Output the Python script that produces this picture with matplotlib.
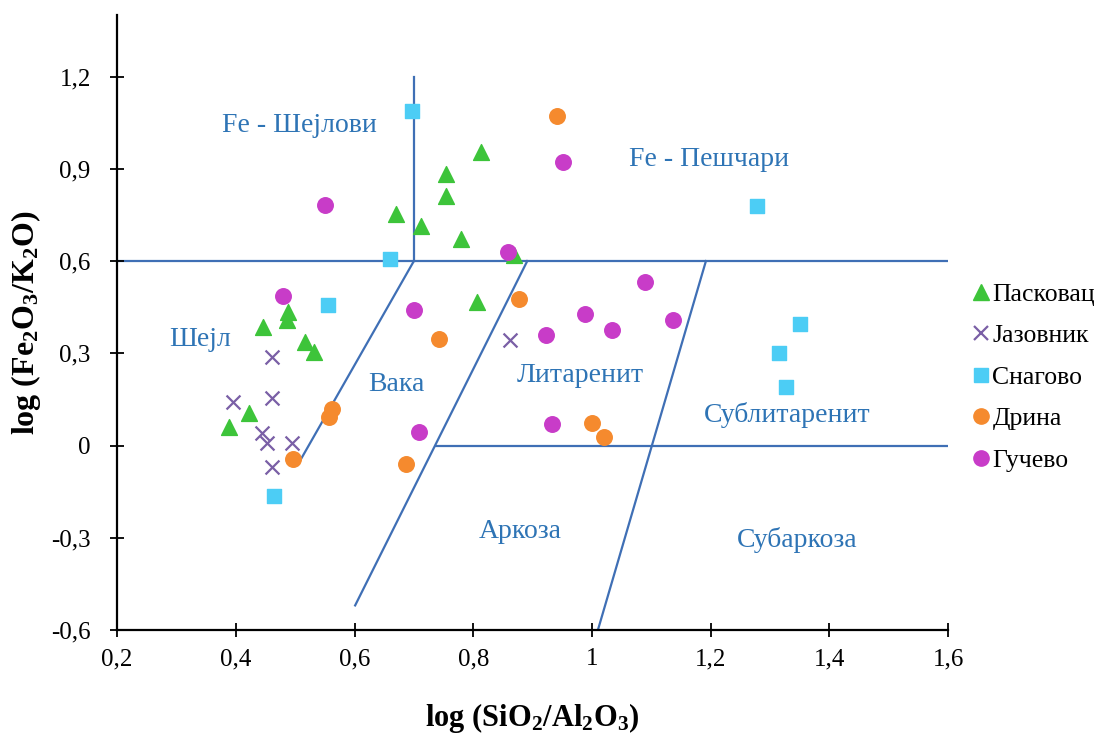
import matplotlib
matplotlib.use("Agg")
import matplotlib.pyplot as plt
from matplotlib.ticker import FuncFormatter
from matplotlib.lines import Line2D

plt.rcParams['font.family'] = ['Liberation Serif', 'DejaVu Serif']
plt.rcParams['mathtext.fontset'] = 'custom'
plt.rcParams['mathtext.rm'] = 'Liberation Serif:bold'
plt.rcParams['mathtext.default'] = 'rm'

# Подаци (log SiO2/Al2O3, log Fe2O3/K2O)
paskovac_x = [0.813, 0.754, 0.754, 0.670, 0.712, 0.780, 0.869, 0.806, 0.488, 0.486,
              0.446, 0.517, 0.532, 0.422, 0.389]
paskovac_y = [0.953, 0.884, 0.813, 0.754, 0.715, 0.670, 0.621, 0.468, 0.435, 0.409,
              0.386, 0.338, 0.305, 0.106, 0.061]

jazovnik_x = [0.461, 0.395, 0.461, 0.444, 0.453, 0.495, 0.461, 0.862]
jazovnik_y = [0.289, 0.142, 0.156, 0.041, 0.009, 0.009, -0.069, 0.344]

snagovo_x = [0.697, 0.660, 0.555, 0.464, 1.278, 1.351, 1.315, 1.327]
snagovo_y = [1.089, 0.608, 0.458, -0.164, 0.780, 0.396, 0.302, 0.191]

drina_x = [0.941, 0.877, 0.742, 0.562, 0.557, 0.496, 0.687, 1.000, 1.020]
drina_y = [1.070, 0.477, 0.347, 0.119, 0.093, -0.043, -0.060, 0.074, 0.028]

gucevo_x = [0.550, 0.951, 0.859, 0.480, 0.700, 1.089, 0.988, 1.034, 0.923, 1.137,
            0.709, 0.933]
gucevo_y = [0.783, 0.923, 0.630, 0.487, 0.442, 0.533, 0.429, 0.377, 0.360, 0.409,
            0.045, 0.071]

# Границе поља дијаграма
boundaries = [
    ([0.2, 1.6], [0.6, 0.6]),
    ([0.70, 0.70], [0.6, 1.2]),
    ([0.70, 0.508], [0.6, -0.05]),
    ([0.891, 0.601], [0.6, -0.52]),
    ([1.192, 1.010], [0.6, -0.6]),
    ([0.737, 1.6], [0.0, 0.0]),
]

fields = [
    ('Fe - Шејлови', 0.507, 1.04),
    ('Fe - Пешчари', 1.197, 0.93),
    ('Шејл', 0.34, 0.344),
    ('Вака', 0.67, 0.20),
    ('Литаренит', 0.98, 0.227),
    ('Сублитаренит', 1.329, 0.10),
    ('Аркоза', 0.879, -0.28),
    ('Субаркоза', 1.346, -0.307),
]

line_col = '#3f6fb5'
text_col = '#2e74b5'

fig = plt.figure(figsize=(11.05, 7.33), dpi=100)
ax = fig.add_axes([0.106, 0.1405, 0.752, 0.839])

for bx, by in boundaries:
    ax.plot(bx, by, color=line_col, lw=1.6, zorder=1)

for name, tx, ty in fields:
    ax.text(tx, ty, name, color=text_col, fontsize=20, ha='center', va='center')

ax.scatter(paskovac_x, paskovac_y, marker='^', s=130, color='#3dc43a', zorder=3)
ax.scatter(jazovnik_x, jazovnik_y, marker='x', s=100, color='#7a5fa6', linewidths=1.6, zorder=3)
ax.scatter(snagovo_x, snagovo_y, marker='s', s=115, color='#4ccdf5', zorder=3)
ax.scatter(drina_x, drina_y, marker='o', s=125, color='#f58a2e', zorder=3)
ax.scatter(gucevo_x, gucevo_y, marker='o', s=125, color='#c83cc8', zorder=3)

ax.set_xlim(0.2, 1.6)
ax.set_ylim(-0.6, 1.4)
ax.set_xticks([0.2, 0.4, 0.6, 0.8, 1.0, 1.2, 1.4, 1.6])
ax.set_yticks([-0.6, -0.3, 0.0, 0.3, 0.6, 0.9, 1.2])

def comma(v, pos):
    s = ('%.1f' % v).replace('.', ',')
    if s.endswith(',0'):
        s = s[:-2]
    if s == '-0':
        s = '0'
    return s

ax.xaxis.set_major_formatter(FuncFormatter(comma))
ax.yaxis.set_major_formatter(FuncFormatter(comma))
ax.tick_params(direction='inout', length=10, width=1.3, labelsize=18, pad=8)
ax.tick_params(axis='y', pad=14)
ax.spines['top'].set_visible(False)
ax.spines['right'].set_visible(False)
ax.spines['left'].set_linewidth(1.6)
ax.spines['bottom'].set_linewidth(1.6)

ax.set_xlabel(r'log (SiO$_2$/Al$_2$O$_3$)', fontsize=22, fontweight='bold', labelpad=22)
ax.set_ylabel(r'log (Fe$_2$O$_3$/K$_2$O)', fontsize=23, fontweight='bold', labelpad=6)

handles = [
    Line2D([], [], ls='none', marker='^', ms=11, color='#3dc43a', label='Пасковац'),
    Line2D([], [], ls='none', marker='x', ms=10, mew=1.6, color='#7a5fa6', label='Јазовник'),
    Line2D([], [], ls='none', marker='s', ms=10, color='#4ccdf5', label='Снагово'),
    Line2D([], [], ls='none', marker='o', ms=11, color='#f58a2e', label='Дрина'),
    Line2D([], [], ls='none', marker='o', ms=11, color='#c83cc8', label='Гучево'),
]
fig.legend(handles=handles, loc='upper left', bbox_to_anchor=(0.869, 0.632),
           frameon=False, fontsize=18.5, handlelength=0.6, handletextpad=0.15,
           labelspacing=0.72, borderpad=0)

fig.savefig('out.png', dpi=100)
